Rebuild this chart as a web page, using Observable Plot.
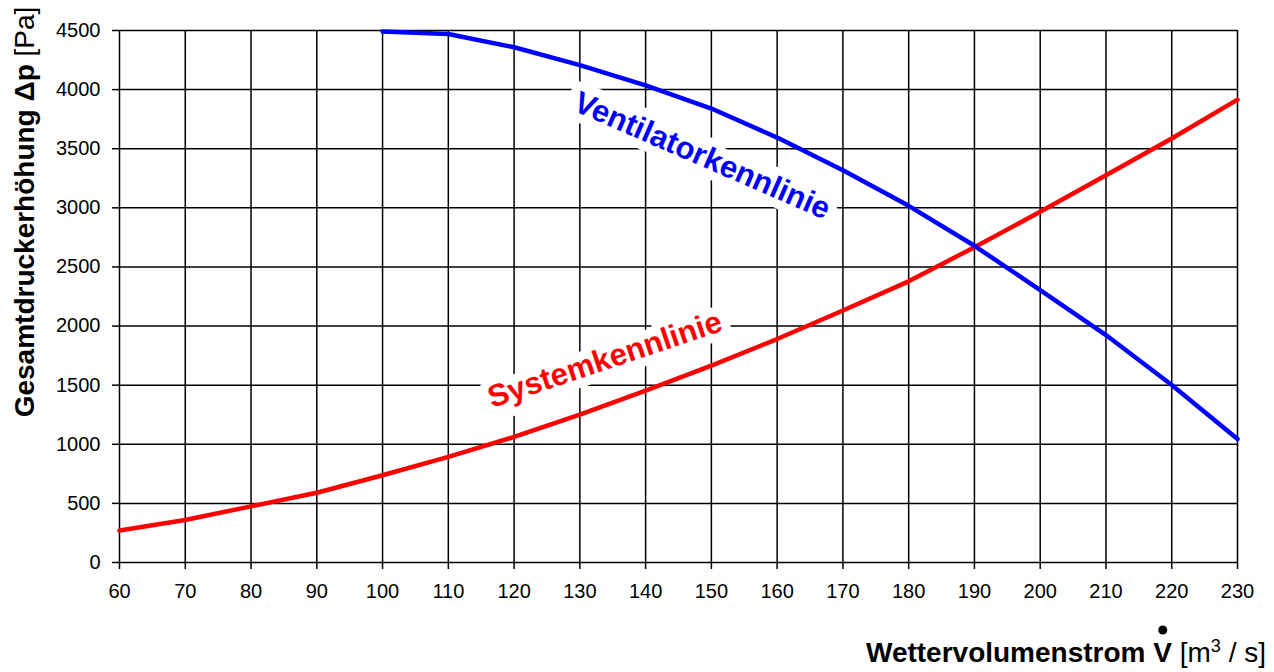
<!DOCTYPE html>
<html>
<head>
<meta charset="utf-8">
<script src="https://cdn.jsdelivr.net/npm/d3@7"></script>
<script src="https://cdn.jsdelivr.net/npm/@observablehq/plot@0.6"></script>
<style>
  html, body { margin: 0; padding: 0; background: #fff; }
  #chart { width: 1274px; height: 672px; }
</style>
</head>
<body>
<div id="chart"></div>
<script>
// Volume flow [m³/s] for the system curve
const systemFlow = [60, 70, 80, 90, 100, 110, 120, 130, 140, 150, 160, 170, 180, 190, 200, 210, 220, 230];
// System characteristic Δp [Pa]
const systemPressure = [270, 360, 475, 590, 738, 893, 1062, 1250, 1453, 1665, 1890, 2132, 2378, 2667, 2966, 3276, 3586, 3915];
// Volume flow [m³/s] for the fan curve
const fanFlow = [100, 110, 120, 130, 140, 150, 160, 170, 180, 190, 200, 210, 220, 230];
// Fan characteristic Δp [Pa]
const fanPressure = [4492, 4470, 4358, 4207, 4036, 3840, 3594, 3318, 3017, 2679, 2304, 1924, 1501, 1045];
// Tick values
const xTicks = [60, 70, 80, 90, 100, 110, 120, 130, 140, 150, 160, 170, 180, 190, 200, 210, 220, 230];
const yTicks = [0, 500, 1000, 1500, 2000, 2500, 3000, 3500, 4000, 4500];
// Curve labels
const seriesNames = ["Systemkennlinie", "Ventilatorkennlinie"];

const systemData = systemFlow.map((x, i) => ({x, y: systemPressure[i]}));
const fanData = fanFlow.map((x, i) => ({x, y: fanPressure[i]}));

const font = "'Liberation Sans', Arial, sans-serif";

const chart = Plot.plot({
  width: 1274,
  height: 672,
  marginLeft: 119,
  marginRight: 37,
  marginTop: 30,
  marginBottom: 110,
  style: {fontFamily: font, fontSize: "20px", color: "#000", background: "#fff"},
  x: {domain: [60, 230], label: null},
  y: {domain: [0, 4500], label: null},
  marks: [
    Plot.gridX(xTicks, {stroke: "#000", strokeOpacity: 1, strokeWidth: 1.5}),
    Plot.gridY(yTicks, {stroke: "#000", strokeOpacity: 1, strokeWidth: 1.5}),
    Plot.axisX(xTicks, {tickSize: 7, tickPadding: 14, strokeWidth: 1.5, label: null, fontSize: 20, tickFormat: d => String(d)}),
    Plot.axisY(yTicks, {tickSize: 7, tickPadding: 12, strokeWidth: 1.5, label: null, fontSize: 20, tickFormat: d => String(d)}),
    Plot.text([seriesNames[1]], {
      x: () => 148.6, y: () => 3440, text: d => d, rotate: 23.5,
      fill: "#0000ff", stroke: "#fff", strokeWidth: 18, strokeLinejoin: "round",
      fontWeight: "bold", fontSize: 31, textAnchor: "middle"
    }),
    Plot.text([seriesNames[0]], {
      x: () => 133.8, y: () => 1715, text: d => d, rotate: -18.5,
      fill: "#ff0000", stroke: "#fff", strokeWidth: 18, strokeLinejoin: "round",
      fontWeight: "bold", fontSize: 31, textAnchor: "middle"
    }),
    Plot.line(systemData, {x: "x", y: "y", stroke: "#ff0000", strokeWidth: 4.5}),
    Plot.line(fanData, {x: "x", y: "y", stroke: "#0000ff", strokeWidth: 4.5})
  ]
});

document.getElementById("chart").appendChild(chart);

// Axis titles with mixed weights
const svg = d3.select(chart);
const yt = svg.append("text")
  .attr("transform", "translate(34,212) rotate(-90)")
  .attr("text-anchor", "middle")
  .attr("font-family", font)
  .attr("font-size", 28)
  .attr("fill", "#000");
yt.append("tspan").attr("font-weight", "bold").text("Gesamtdruckerhöhung Δp");
yt.append("tspan").text(" [Pa]");

const xt = svg.append("text")
  .attr("x", 1266)
  .attr("y", 662)
  .attr("text-anchor", "end")
  .attr("font-family", font)
  .attr("font-size", 28)
  .attr("fill", "#000");
xt.append("tspan").attr("font-weight", "bold").text("Wettervolumenstrom ");
const vSpan = xt.append("tspan").attr("font-weight", "bold").text("V");
xt.append("tspan").text(" [m");
xt.append("tspan").attr("font-size", 18).attr("dy", -10).text("3");
xt.append("tspan").attr("dy", 10).text(" / s]");

// Dot over V (volume flow rate)
const vb = vSpan.node().getBBox();
svg.append("circle")
  .attr("cx", vb.x + vb.width / 2)
  .attr("cy", vb.y - 7)
  .attr("r", 4.5)
  .attr("fill", "#000");
</script>
</body>
</html>
